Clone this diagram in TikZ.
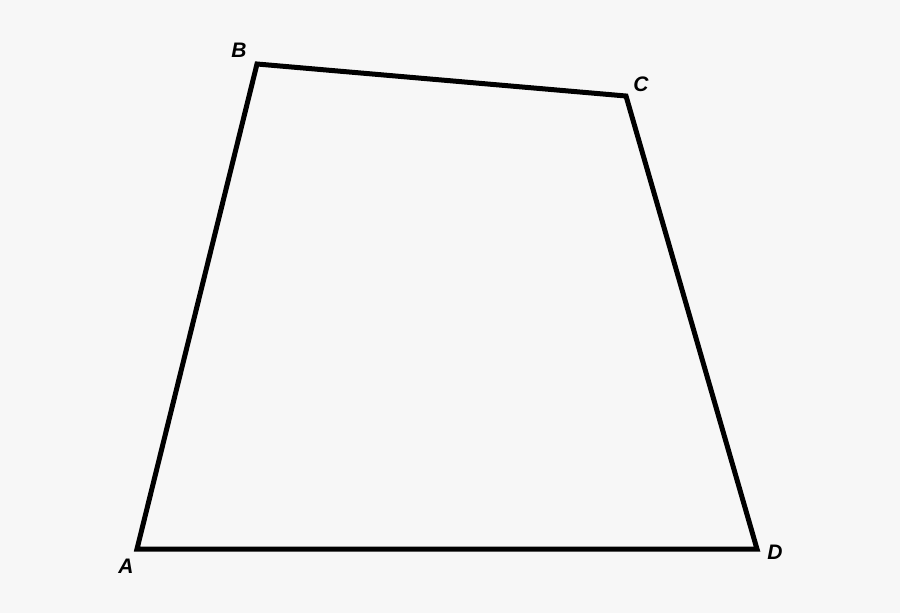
\documentclass[tikz,border=0pt]{standalone}
\usepackage{fontspec}
\setmainfont{Liberation Sans}
\begin{document}
\begin{tikzpicture}[x=1pt,y=-1pt,
  edge/.style={line width=5pt,line join=miter},
  lbl/.style={font=\fontsize{21}{24}\selectfont\bfseries\itshape,inner sep=0pt}]
\fill[fill={rgb,255:red,247;green,247;blue,247}] (0,0) rectangle (900,613);
\useasboundingbox (0,0) rectangle (900,613);
\coordinate (A) at (137,549);
\coordinate (B) at (257,64);
\coordinate (C) at (626,96);
\coordinate (D) at (757,549);
\draw[edge] (A) -- (B) -- (C) -- (D) -- cycle;
\node[lbl] (lA) at (126,566) {A};
\node[lbl] (lB) at (239,50) {B};
\node[lbl] (lC) at (641,84) {C};
\node[lbl] (lD) at (775,552) {D};
\end{tikzpicture}
\end{document}
